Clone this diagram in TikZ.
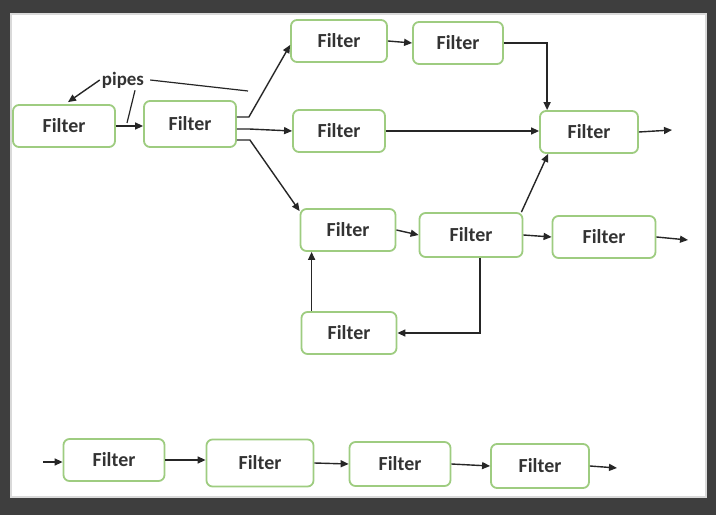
\documentclass[tikz,border=0pt]{standalone}
\usepackage{fontspec}
\setmainfont{Carlito}
\usetikzlibrary{arrows.meta}
\definecolor{filtergreen}{RGB}{158,204,128}
\definecolor{slidegray}{RGB}{62,62,62}
\begin{document}
\begin{tikzpicture}[x=1bp,y=-1bp,
	filter/.style={draw=filtergreen,line width=1.8bp,rounded corners=6bp,fill=white,
		minimum width=96bp,minimum height=42bp,inner sep=0pt,text=black!80,
		font=\bfseries\fontsize{20}{24}\selectfont},
	pipe/.style={line width=1.4bp,black!85,-{Triangle[length=8bp,width=7bp]}},
	label line/.style={line width=1.2bp,black!85}]

	% slide frame
	\fill[slidegray] (0,0) rectangle (716,515);
	\draw[fill=white,draw=black!15,line width=2bp] (11,14) rectangle (706,497);

	% branching pipeline
	\node[filter,minimum width=102bp] (src) at (64,126) {Filter};
	\node[filter,minimum width=92bp,minimum height=46bp] (split) at (190,124) {Filter};
	\node[filter] (top1) at (339,41) {Filter};
	\node[filter,minimum width=90bp] (top2) at (458,43) {Filter};
	\node[filter,minimum width=92bp] (mid) at (339,131) {Filter};
	\node[filter,minimum width=98bp] (merge) at (589,132) {Filter};
	\node[filter,minimum width=95bp] (loop1) at (348,230) {Filter};
	\node[filter,minimum width=103bp,minimum height=44bp] (loop2) at (471,235) {Filter};
	\node[filter,minimum width=103bp] (side) at (604,237) {Filter};
	\node[filter,minimum width=95bp] (back) at (349,333) {Filter};

	\node[font=\bfseries\fontsize{19}{22}\selectfont,text=black!80,inner sep=2bp] (pipes) at (123,80) {pipes};
	\coordinate (pipeA) at (127,123);
	\coordinate (pipeB) at (248,91);
	\coordinate (mergeout) at (672,130);
	\coordinate (sideout) at (688,240);

	\draw[pipe] (pipes.west) -- ([xshift=4bp,yshift=2bp]src.north);
	\draw[label line] ([xshift=12bp]pipes.south) -- (pipeA);
	\draw[label line] ([xshift=4bp]pipes.east) -- (pipeB);

	\draw[pipe] (src.east) -- (src.east -| split.west);
	\draw[pipe] ([yshift=7bp]split.east) -- ++(12,0) -- ([yshift=-4bp]top1.west);
	\draw[pipe] ([yshift=-5bp]split.east) -- ++(12,0) -- (mid.west);
	\draw[pipe] ([yshift=-16bp]split.east) -- ++(13,0) -- ([yshift=-3bp]loop1.north west);

	\draw[pipe] (top1.east) -- (top2.west);
	\draw[pipe] (top2.east) -| ([xshift=8bp]merge.north west);
	\draw[pipe] (mid.east) -- (mid.east -| merge.west);
	\draw[pipe] ([xshift=-2bp]loop2.north east) -- ([xshift=9bp]merge.south west);
	\draw[pipe] (loop1.east) -- (loop2.west);
	\draw[pipe] (loop2.east) -- (side.west);
	\draw[pipe] ([xshift=9bp]loop2.south) |- (back.east);
	\draw[pipe] ([xshift=11bp]back.north west) -- ([xshift=11bp]back.north west |- loop1.south);
	\draw[pipe] (merge.east) -- (mergeout);
	\draw[pipe] (side.east) -- (sideout);

	% straight pipeline
	\node[filter,minimum width=101bp] (p1) at (114,460) {Filter};
	\node[filter,minimum width=107bp,minimum height=47bp] (p2) at (260,463) {Filter};
	\node[filter,minimum width=101bp,minimum height=44bp] (p3) at (400,464) {Filter};
	\node[filter,minimum width=98bp,minimum height=44bp] (p4) at (540,466) {Filter};
	\coordinate (pin) at (43,462);
	\coordinate (pout) at (617,468);

	\draw[pipe] (pin) -- (pin -| p1.west);
	\draw[pipe] (p1.east) -- (p1.east -| p2.west);
	\draw[pipe] (p2.east) -- (p3.west);
	\draw[pipe] (p3.east) -- (p4.west);
	\draw[pipe] (p4.east) -- (pout);
\end{tikzpicture}
\end{document}
